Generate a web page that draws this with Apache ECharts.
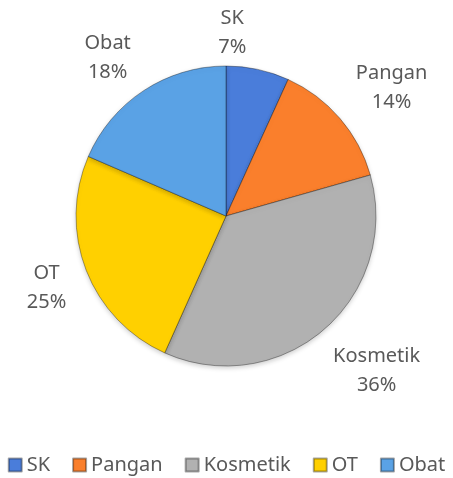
<!DOCTYPE html>
<html>
<head>
<meta charset="utf-8">
<script src="https://cdn.jsdelivr.net/npm/echarts@6/dist/echarts.min.js"></script>
<style>
html,body{margin:0;padding:0;background:#fff;}
#chart{width:453px;height:478px;}
</style>
</head>
<body>
<div id="chart"></div>
<script>
// ---- data ----
var categories = ['SK', 'Pangan', 'Kosmetik', 'OT', 'Obat'];
var values = [6.8, 13.8, 36.1, 24.8, 18.5];
var colors = ['#4a7dda', '#fa7f2c', '#b1b1b1', '#ffd000', '#5aa2e5'];

// ---- layout ----
var CX = 226, CY = 216, R = 150;
var LABEL_R = 176;
var labelNudge = [[-34, 17], [5, 5], [7, 0], [3, -2], [-9, 13]];
var FONT = '"Noto Sans", "Open Sans", sans-serif';

var total = values.reduce(function (a, b) { return a + b; }, 0);
function midAngle(i) {
  var s = 0;
  for (var k = 0; k < i; k++) s += values[k];
  return ((s + values[i] / 2) / total) * Math.PI * 2;
}

var chart = echarts.init(document.getElementById('chart'), null, {renderer: 'canvas'});
chart.setOption({
  animation: false,
  color: colors,
  legend: {
    left: 'center',
    top: 450,
    icon: 'rect',
    itemWidth: 13,
    itemHeight: 13,
    itemGap: 22,
    textStyle: {fontFamily: FONT, fontSize: 20, color: '#595959'},
    data: categories
  },
  series: [{
    type: 'pie',
    center: [CX, CY],
    radius: [0, R],
    startAngle: 90,
    clockwise: true,
    percentPrecision: 0,
    itemStyle: {
      borderColor: 'rgba(0,0,0,0.35)',
      borderWidth: 1,
      shadowColor: 'rgba(0,0,0,0.2)',
      shadowBlur: 5,
      shadowOffsetY: 2
    },
    label: {
      show: true,
      position: 'outside',
      alignTo: 'none',
      overflow: 'none',
      formatter: '{b}\n{d}%',
      fontFamily: FONT,
      fontSize: 20,
      lineHeight: 29,
      color: '#595959',
      align: 'center'
    },
    labelLine: {show: false},
    labelLayout: function (p) {
      var i = p.dataIndex;
      var a = midAngle(i);
      var ux = Math.sin(a), uy = -Math.cos(a);
      var w = p.labelRect.width, h = p.labelRect.height;
      return {
        x: CX + LABEL_R * ux + ux * w / 2 + labelNudge[i][0],
        y: CY + LABEL_R * uy + uy * h / 2 + labelNudge[i][1],
        align: 'center',
        verticalAlign: 'middle'
      };
    },
    data: categories.map(function (c, i) { return {name: c, value: values[i]}; })
  }]
});
</script>
</body>
</html>
